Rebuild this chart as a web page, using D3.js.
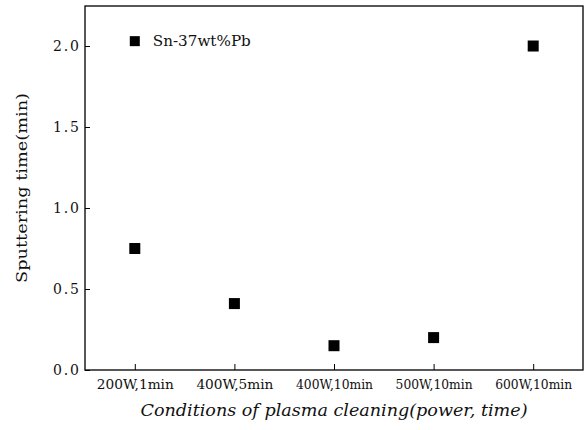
<!DOCTYPE html>
<html>
<head>
<meta charset="utf-8">
<script src="https://cdn.jsdelivr.net/npm/d3@7"></script>
<style>
  body { margin: 0; background: #fff; }
  text { font-family: "DejaVu Serif", "Liberation Serif", serif; fill: #111; }
</style>
</head>
<body>
<div id="chart"></div>
<script>
// data
var conditions = ["200W,1min", "400W,5min", "400W,10min", "500W,10min", "600W,10min"];
var sputterTime = [0.75, 0.41, 0.15, 0.2, 2.0];
var yTicks = [0.0, 0.5, 1.0, 1.5, 2.0];
var seriesName = "Sn-37wt%Pb";

var margin = {top: 6, right: 4, bottom: 60, left: 85},
    width = 587 - margin.left - margin.right,
    height = 430 - margin.top - margin.bottom;

var svg = d3.select("#chart").append("svg")
    .attr("width", 587)
    .attr("height", 430)
  .append("g")
    .attr("transform", "translate(" + margin.left + "," + margin.top + ")");

var x = d3.scalePoint()
    .domain(conditions)
    .range([0, width])
    .padding(0.5);

var y = d3.scaleLinear()
    .domain([0, 2.247])
    .range([height, 0]);

// frame
svg.append("rect")
    .attr("width", width)
    .attr("height", height)
    .attr("fill", "none")
    .attr("stroke", "#111")
    .attr("stroke-width", 1.4);

// x axis, ticks point inward
var xAxis = svg.append("g")
    .attr("transform", "translate(0," + height + ")")
    .call(d3.axisBottom(x).tickSizeInner(-6).tickSizeOuter(0).tickPadding(9));
xAxis.select(".domain").remove();
xAxis.selectAll("text")
    .attr("font-size", 13.5)
    .attr("textLength", 77)
    .attr("lengthAdjust", "spacingAndGlyphs");

// y axis
var yAxis = svg.append("g")
    .call(d3.axisLeft(y).tickValues(yTicks).tickFormat(d3.format(".1f"))
      .tickSizeInner(-5).tickSizeOuter(0).tickPadding(6));
yAxis.select(".domain").remove();
yAxis.selectAll("text")
    .attr("font-size", 14)
    .attr("textLength", 26)
    .attr("lengthAdjust", "spacing");

// points
svg.selectAll(".pt")
    .data(sputterTime)
  .enter().append("rect")
    .attr("class", "pt")
    .attr("x", function(d, i) { return x(conditions[i]) - 5.5; })
    .attr("y", function(d) { return y(d) - 5.5; })
    .attr("width", 11)
    .attr("height", 11)
    .attr("fill", "#000");

// legend
var legend = svg.append("g")
    .attr("transform", "translate(" + (x(conditions[0])) + "," + (y(2.03)) + ")");
legend.append("rect")
    .attr("x", -5).attr("y", -5)
    .attr("width", 10).attr("height", 10)
    .attr("fill", "#000");
legend.append("text")
    .attr("x", 18).attr("y", 5)
    .attr("font-size", 14)
    .attr("textLength", 98)
    .attr("lengthAdjust", "spacingAndGlyphs")
    .text(seriesName);

// axis titles
svg.append("text")
    .attr("x", 334 - margin.left)
    .attr("y", height + 46)
    .attr("text-anchor", "middle")
    .attr("font-size", 16)
    .attr("font-style", "italic")
    .attr("textLength", 387)
    .attr("lengthAdjust", "spacingAndGlyphs")
    .text("Conditions of plasma cleaning(power, time)");

svg.append("text")
    .attr("transform", "translate(-58," + (188 - margin.top) + ") rotate(-90)")
    .attr("text-anchor", "middle")
    .attr("font-size", 15)
    .attr("textLength", 190)
    .attr("lengthAdjust", "spacingAndGlyphs")
    .text("Sputtering time(min)");
</script>
</body>
</html>
